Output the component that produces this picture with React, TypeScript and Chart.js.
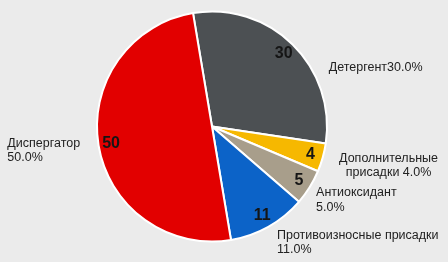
import React, { useEffect, useRef } from "react";
import { Chart, registerables } from "chart.js";

Chart.register(...registerables);

const categories = [
  "Детергент",
  "Дополнительные присадки",
  "Антиоксидант",
  "Противоизносные присадки",
  "Диспергатор",
];
const values = [30, 4, 5, 11, 50];
const percentLabels = ["30.0%", "4.0%", "5.0%", "11.0%", "50.0%"];
const labelLines = [
  ["Детергент30.0%"],
  ["Дополнительные", "присадки 4.0%"],
  ["Антиоксидант", "5.0%"],
  ["Противоизносные присадки", "11.0%"],
  ["Диспергатор", "50.0%"],
];
const colors = ["#4c5053", "#f6b800", "#a89e8b", "#0c63c8", "#e20000"];

// layout for outside labels: offset from pie centre in units of radius
const labelLayout = [
  { ox: 1.015, oy: -0.515, align: "left" },
  { ox: 1.535, oy: 0.275, align: "center" },
  { ox: 0.905, oy: 0.575, align: "left" },
  { ox: 0.565, oy: 0.945, align: "left" },
  { ox: -1.78, oy: 0.145, align: "left" },
];

const labelPlugin = {
  id: "pieLabels",
  afterDatasetsDraw(chart: any) {
    const ctx = chart.ctx;
    const meta = chart.getDatasetMeta(0);
    ctx.save();
    meta.data.forEach((arc: any, i: number) => {
      const { x, y, startAngle, endAngle, outerRadius } = arc.getProps(
        ["x", "y", "startAngle", "endAngle", "outerRadius"],
        true
      );
      const mid = (startAngle + endAngle) / 2;
      const r = outerRadius * 0.89;
      ctx.fillStyle = "#151515";
      ctx.font = "bold 16px 'Liberation Sans', Arial, sans-serif";
      ctx.textAlign = "center";
      ctx.textBaseline = "middle";
      ctx.fillText(String(values[i]), x + Math.cos(mid) * r, y + Math.sin(mid) * r);

      const lay = labelLayout[i];
      ctx.font = "12.5px 'Liberation Sans', Arial, sans-serif";
      ctx.fillStyle = "#222222";
      ctx.textAlign = lay.align;
      const lx = x + lay.ox * outerRadius;
      const ly = y + lay.oy * outerRadius;
      labelLines[i].forEach((line, j) => {
        ctx.fillText(line, lx, ly + j * 14.5);
      });
    });
    ctx.restore();
  },
};

export default function App() {
  const ref = useRef<HTMLCanvasElement>(null);
  useEffect(() => {
    document.body.style.margin = "0";
    document.body.style.background = "#ebebeb";
    const chart = new Chart(ref.current!, {
      type: "pie",
      data: {
        labels: categories.map((c, i) => c + " " + percentLabels[i]),
        datasets: [
          {
            data: values,
            backgroundColor: colors,
            borderColor: "#ffffff",
            borderWidth: 2,
          },
        ],
      },
      options: {
        responsive: false,
        animation: false,
        rotation: -9.5,
        layout: { padding: { left: 96, right: 120, top: 10.5, bottom: 19.5 } },
        plugins: {
          legend: { display: false },
          tooltip: { enabled: false },
        },
      },
      plugins: [labelPlugin],
    });
    return () => chart.destroy();
  }, []);
  return (
    <div style={{ width: 448, height: 262, background: "#ebebeb" }}>
      <canvas ref={ref} width={448} height={262} />
    </div>
  );
}
